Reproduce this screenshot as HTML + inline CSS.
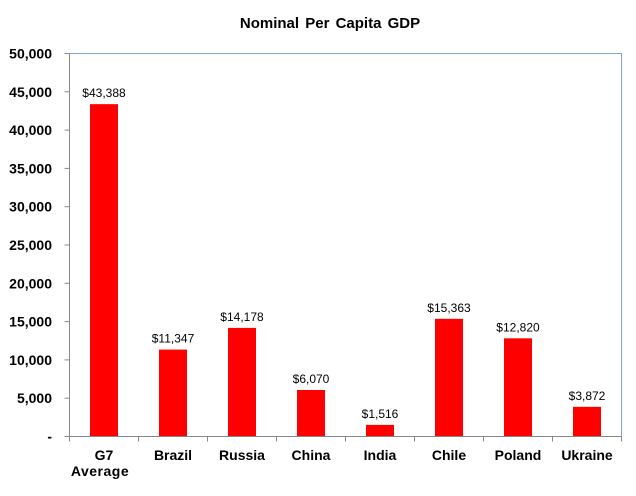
<!DOCTYPE html>
<html><head><meta charset="utf-8"><style>
body{margin:0;background:#fff;}
svg{display:block;font-family:"Liberation Sans",Arial,sans-serif;}
</style></head><body>
<svg id="chart" width="636" height="496" viewBox="0 0 636 496">
<text x="330" y="28" text-anchor="middle" font-size="15" font-weight="bold" word-spacing="2">Nominal Per Capita GDP</text>
<g id="plot"></g>
</svg>
<script>
const categories = [["G7","Average"],["Brazil"],["Russia"],["China"],["India"],["Chile"],["Poland"],["Ukraine"]];
const values = [43388, 11347, 14178, 6070, 1516, 15363, 12820, 3872];
const valueLabels = ["$43,388","$11,347","$14,178","$6,070","$1,516","$15,363","$12,820","$3,872"];
const yTicks = [0,5000,10000,15000,20000,25000,30000,35000,40000,45000,50000];
const yTickLabels = ["-","5,000","10,000","15,000","20,000","25,000","30,000","35,000","40,000","45,000","50,000"];

const X0=69.5, X1=621.5, Y0=436.5, Y1=53.5, YMAX=50000;
const bw=(X1-X0)/categories.length;
const y=v=>Y0-(v/YMAX)*(Y0-Y1);
const xc=i=>X0+bw*(i+0.5);
const NS="http://www.w3.org/2000/svg";
const g=document.getElementById('plot');
function mk(t,a,txt){const e=document.createElementNS(NS,t);for(const k in a)e.setAttribute(k,a[k]);if(txt!=null)e.textContent=txt;g.appendChild(e);return e;}

let e=mk('path',{d:`M${X0} ${Y1}H${X1}V${Y0}`,fill:'none',stroke:'#7fa6d0','stroke-width':1});



yTicks.forEach((t,i)=>{
  const l=mk('line',{x1:X0-5,x2:X0,y1:y(t),y2:y(t),stroke:'#888'});
  
  
  const tx=mk('text',{x:52,y:y(t)+5,'text-anchor':'end','font-size':14,'font-weight':'bold'},yTickLabels[i]);
  
  
});

values.forEach((v,i)=>{
  const r=mk('rect',{x:xc(i)-14,y:y(v),width:28,height:Y0-y(v),fill:'#ff0000'});
  
  
  const t=mk('text',{x:xc(i),y:y(v)-7,'text-anchor':'middle','font-size':12},valueLabels[i]);
  
  
  categories[i].forEach((s,j)=>{
    const c=mk('text',{x:xc(i)+(j?-4:0),y:460+j*16,'text-anchor':'middle','font-size':14,'font-weight':'bold','letter-spacing':j?'0.5':'0'},s);
    
    
  });
});
for(let i=0;i<=categories.length;i++){
  const l=mk('line',{x1:X0+bw*i,x2:X0+bw*i,y1:Y0,y2:Y0+5,stroke:'#888'});
  
  
}
e=mk('line',{x1:X0,x2:X0,y1:Y1,y2:Y0,stroke:'#888'});


e=mk('line',{x1:X0,x2:X1,y1:Y0,y2:Y0,stroke:'#888'});


</script>
</body></html>
